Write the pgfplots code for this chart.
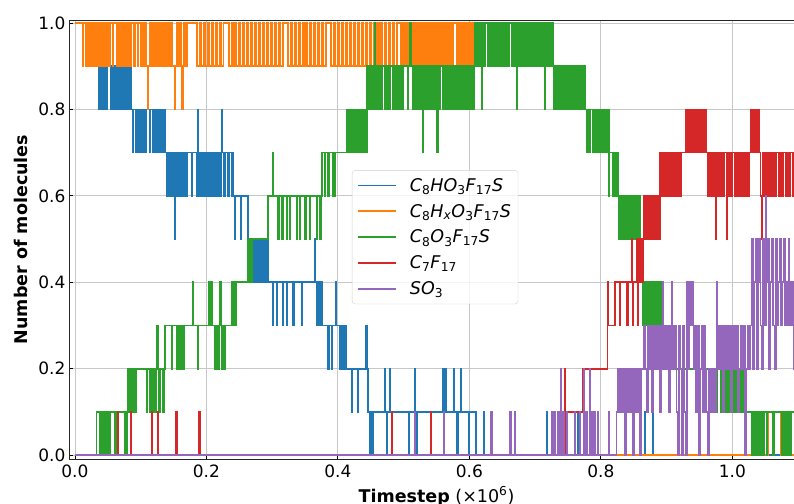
\documentclass[border=0pt]{standalone}
\usepackage{pgfplots}
\pgfplotsset{compat=1.18}
\usepackage{fontspec}
\setmainfont{DejaVu Sans}
\definecolor{tabblue}{HTML}{1F77B4}
\definecolor{taborange}{HTML}{FF7F0E}
\definecolor{tabgreen}{HTML}{2CA02C}
\definecolor{tabred}{HTML}{D62728}
\definecolor{tabpurple}{HTML}{9467BD}
\begin{document}
\begin{tikzpicture}
\begin{axis}[
  at={(69pt,44pt)}, anchor=south west, scale only axis,
  width=735pt, height=439pt,
  xmin=-9, xmax=1109, ymin=-0.009, ymax=1.007,
  xtick={0,200,400,600,800,1000}, xticklabels={0.0,0.2,0.4,0.6,0.8,1.0},
  ytick={0,0.2,0.4,0.6,0.8,1.0}, yticklabels={0.0,0.2,0.4,0.6,0.8,1.0},
  xtick pos=left, ytick pos=left, tick align=inside,
  major tick length=4pt, tick style={black, line width=0.8pt},
  grid=major, major grid style={black!22, line width=0.8pt},
  axis line style={black!85, line width=0.9pt},
  ticklabel style={font=\fontsize{17}{20}\selectfont},
  xticklabel style={yshift=-2pt},
  xlabel={\textbf{Timestep} (×10\textsuperscript{6})},
  ylabel={\textbf{Number of molecules}},
  label style={font=\fontsize{17.5}{21}\selectfont},
  xlabel style={at={(axis description cs:0.5,0)}, anchor=base, yshift=-43pt},
  ylabel style={at={(axis description cs:-0.0571,0.5)}, anchor=base},
  legend cell align=left,
  legend image code/.code={\draw[#1, line width=1.8pt] (0pt,0pt) -- (38pt,0pt);},
  legend style={at={(axis description cs:0.385,0.658)}, anchor=north west,
    draw=black!18, rounded corners=3pt, fill=white, fill opacity=0.8, text opacity=1,
    font=\fontsize{17.5}{20}\selectfont, inner xsep=5pt, inner ysep=6pt, row sep=7.3pt,
    /tikz/every odd column/.append style={column sep=11pt}},
  every axis plot/.append style={const plot, line width=1.7pt, mark=none},
]
% C8HO3F17S
\addplot[tabblue] coordinates {
(0,1.0)(33,0.9)(36,0.8)(38,0.9)(40,0.8)(42,0.9)(44,0.8)(46,0.9)(48,0.8)(49,0.9)(55,0.8)(56,0.9)(58,0.8)(59,0.9)(62,0.8)(64,0.9)(66,0.8)(68,0.9)(70,0.8)(72,0.9)(74,0.8)(76,0.9)(78,0.8)(80,0.9)(82,0.8)(84,0.9)(85,0.8)
(88,0.7)(89,0.8)(92,0.7)(93,0.8)(96,0.7)(97,0.8)(100,0.7)(102,0.8)(104,0.7)(106,0.8)(108,0.7)(109,0.8)(114,0.7)(115,0.8)(118,0.7)(120,0.8)(122,0.7)(124,0.8)(126,0.7)(128,0.8)(130,0.7)(132,0.8)(134,0.7)(135,0.8)(138,0.7)
(140,0.6)(142,0.7)(145,0.6)(147,0.7)(149,0.6)(151,0.7)(152,0.5)(153,0.6)(155,0.7)(157,0.6)(159,0.7)(161,0.6)(163,0.7)(165,0.6)(167,0.7)(169,0.6)(171,0.7)(178,0.6)(179,0.7)(185,0.6)(187,0.8)(188,0.7)(190,0.6)(192,0.7)(194,0.6)(196,0.7)(198,0.6)(200,0.7)(202,0.6)(204,0.7)(206,0.6)(208,0.7)(210,0.6)(212,0.7)(214,0.6)(216,0.7)(218,0.6)(219,0.7)(222,0.6)(223,0.8)(224,0.7)(227,0.6)(228,0.7)(233,0.6)(234,0.7)(238,0.6)(239,0.7)(240,0.6)
(243,0.5)(244,0.6)(252,0.5)(253,0.6)(263,0.5)(269,0.4)(271,0.5)(273,0.4)(275,0.5)(277,0.4)(279,0.5)(281,0.4)(283,0.5)(285,0.4)(287,0.5)(289,0.4)(291,0.5)(294,0.4)
(301,0.3)(302,0.4)(307,0.3)(308,0.4)(316,0.3)(317,0.4)(322,0.3)(323,0.4)(332,0.3)(333,0.4)(345,0.3)(346,0.4)(365,0.5)(366,0.4)(368,0.3)(370,0.4)(372,0.3)(374,0.4)(376,0.3)
(385,0.2)(386,0.3)(391,0.2)(392,0.3)(397,0.4)(398,0.3)(403,0.2)(405,0.3)(407,0.2)(409,0.3)(411,0.2)(412,0.3)(413,0.2)
(421,0.1)(422,0.2)(430,0.1)(431,0.2)(443,0.3)(444,0.2)(446,0.1)(448,0)(449,0.1)(450,0)(451,0.1)(452,0)(453,0.1)(471,0.2)(472,0.1)(474,0)(475,0.1)(479,0.2)(480,0.1)(508,0)(509,0.1)(517,0.2)(518,0.1)(520,0)(521,0.1)(560,0.2)(561,0.1)(563,0.2)(564,0.1)(576,0.2)(577,0.1)(581,0)(583,0.1)(587,0.2)(588,0.1)(599,0)(600,0.1)(610,0)
(622,0.1)(623,0)(718,0.1)(719,0)(765,0.1)(766,0)(867,0.1)(868,0)(879,0.1)(880,0)(1120,0)
};
\addlegendentry{\textit{C}\textsubscript{8}\textit{HO}\textsubscript{3}\textit{F}\textsubscript{17}\textit{S}}
% C8HxO3F17S
\addplot[taborange] coordinates {
(0,1)(12,0.9)(13,1)(16,0.9)(17,1)(20,0.9)(21,1)(24,0.9)(25,1)(28,0.9)(29,1)(31,0.9)(32,1)
(35,0.9)(37,1)(39,0.9)(41,1)(43,0.9)(45,1)(47,0.9)(49,1)(51,0.9)(53,1)(57,0.9)(58,1)
(64,0.9)(66,1)(68,0.9)(70,1)(72,0.9)(74,1)(76,0.9)(78,1)(80,0.9)(82,1)(84,0.9)(86,1)
(90,0.9)(91,1)(95,0.9)(96,1)(100,0.9)(101,1)(104,0.9)(106,1)(108,0.9)(111,0.8)(112,0.9)(114,1)
(117,0.9)(119,1)(121,0.9)(123,1)(126,0.9)(128,1)(131,0.9)(133,1)(136,0.9)(138,1)(140,0.9)(142,1)
(144,0.9)(146,1)(148,0.9)(152,0.8)(153,0.9)(155,1)(157,0.9)(159,1)(161,0.9)(163,0.8)(164,0.9)(166,1)(168,0.9)(170,1)
(186,0.9)(190,1)(192,0.9)(196,1)(198,0.9)(202,1)(204,0.9)(208,1)(210,0.9)(214,1)(216,0.9)(220,1)(222,0.9)(226,1)(234,0.9)(238,1)(240,0.9)(244,1)(246,0.9)(250,1)(252,0.9)(256,1)(258,0.9)(262,1)(264,0.9)(268,1)(270,0.9)(274,1)(276,0.9)(280,1)(282,0.9)(286,1)(288,0.9)(292,1)(294,0.9)(298,1)(300,0.9)(304,1)(306,0.9)(310,1)(312,0.9)(316,1)(324,0.9)(328,1)(330,0.9)(334,1)(336,0.9)(340,1)(342,0.9)(346,1)(348,0.9)(352,1)(354,0.9)(358,1)(360,0.9)(364,1)(366,0.9)(370,1)(372,0.9)(376,1)(378,0.9)(382,1)(390,0.9)(394,1)(396,0.9)(400,1)(402,0.9)(406,1)(408,0.9)(412,1)(414,0.9)(418,1)(420,0.9)(424,1)(426,0.9)(430,1)(432,0.9)(436,1)(438,0.9)(442,1)(444,0.9)(448,1)(450,0.9)(454,1)(456,0.9)(460,1)(462,0.9)(466,1)(468,0.9)(472,1)(474,0.9)(478,1)(480,0.9)(484,1)(486,0.9)(490,1)
(496,0.9)(498,1)(500,0.9)(502,1)(504,0.9)(506,1)(508,0.9)(510,1)
(514,0.9)(516,1)(518,0.9)(520,1)(522,0.9)(524,1)(526,0.9)(528,1)(530,0.9)(532,1)(534,0.9)(536,1)(538,0.9)(540,1)(542,0.9)(544,1)(546,0.9)(548,1)(550,0.9)(552,1)(554,0.9)(556,1)(558,0.9)(560,1)(562,0.9)(564,1)(566,0.9)(568,1)(570,0.9)(572,1)(574,0.9)(576,1)
(581,0.9)(583,1)(585,0.9)(587,1)(589,0.9)(591,1)(593,0.9)(595,1)(597,0.9)(599,1)(601,0.9)(603,1)(605,0.9)(608,0.9)
};
\addlegendentry{\textit{C}\textsubscript{8}\textit{H}\textsubscript{\textit{x}}\textit{O}\textsubscript{3}\textit{F}\textsubscript{17}\textit{S}}
\addplot[taborange, forget plot] coordinates {
(612,0)(1054,0.1)(1062,0)(1063,0.1)(1074,0)(1120,0)
};
% C8O3F17S
\addplot[tabgreen] coordinates {
(0,0)(33,0.1)(38,0)(39,0.1)(41,0)(42,0.1)(43,0)(44,0.1)(46,0)(47,0.1)(49,0)(50,0.1)(53,0)(54,0.1)(61,0)(62,0.1)(76,0)(77,0.1)(79,0)(80,0.1)
(81,0.2)(83,0.1)(85,0.2)(87,0.1)(89,0.2)(91,0.1)(93,0.2)(109,0.1)(110,0.2)(114,0.1)(116,0.2)(118,0.1)(120,0.2)(122,0.1)(124,0.2)(125,0.3)(126,0.2)(128,0.1)(130,0.2)(134,0.1)(135,0.2)
(137,0.3)(147,0.2)(148,0.3)(155,0.2)(156,0.3)(157,0.2)(159,0.3)(161,0.2)(163,0.3)(165,0.2)(166,0.3)(179,0.4)(180,0.3)(187,0.2)(188,0.3)(203,0.4)(205,0.3)(207,0.4)(209,0.3)(213,0.2)(215,0.3)(217,0.2)(219,0.3)(221,0.4)(222,0.3)(224,0.2)(226,0.3)(228,0.2)(229,0.3)(239,0.4)(240,0.3)(242,0.4)(244,0.3)(246,0.4)
(263,0.5)(264,0.4)(266,0.5)(268,0.4)(270,0.5)(294,0.6)
(301,0.7)(302,0.6)(309,0.5)(310,0.6)(315,0.5)(316,0.6)(322,0.5)(323,0.6)(327,0.5)(328,0.6)(337,0.5)(338,0.6)(342,0.5)(343,0.6)(350,0.5)(351,0.6)(357,0.5)(358,0.6)(368,0.5)(369,0.6)(373,0.5)(374,0.6)
(376,0.7)(380,0.6)(381,0.7)(385,0.6)(386,0.7)(392,0.6)(393,0.7)(395,0.6)(396,0.7)
(413,0.8)(415,0.7)(417,0.8)(419,0.7)(421,0.8)(423,0.7)(425,0.8)(427,0.7)(429,0.8)(431,0.7)(433,0.8)(435,0.7)(437,0.8)(439,0.7)(441,0.8)(443,0.7)
(444,0.9)(446,0.8)(448,0.9)(450,0.8)(452,0.9)(454,0.8)(455,0.9)(456,1.0)(457,0.9)(458,0.8)(460,0.9)(463,0.8)(464,0.9)(466,0.8)(468,0.9)(471,0.8)(472,0.9)(474,0.8)(476,0.9)(478,0.8)(480,0.9)(483,0.8)(484,0.9)(486,0.8)(488,0.9)(490,0.8)(492,0.9)(495,0.8)(496,0.9)(498,0.8)(500,0.9)(506,0.8)(507,0.9)(510,1.0)(511,0.9)(514,0.8)(516,0.9)(518,0.8)(520,0.9)(523,0.8)(524,0.9)(526,0.8)(528,0.9)(529,0.7)(530,0.9)(532,0.8)(534,0.9)(537,0.8)(538,0.9)(540,0.8)(542,0.9)(544,0.8)(546,0.9)(548,0.8)(550,0.9)(551,0.7)(552,0.9)(554,0.8)(556,0.9)(559,0.8)(560,0.9)(562,0.8)(564,0.9)(566,0.8)(568,0.9)(571,0.8)(572,0.9)(574,0.8)(576,0.9)(578,0.8)(580,0.9)(583,0.8)(584,0.9)(586,0.8)(588,0.9)(590,0.8)(592,0.9)(595,0.8)(596,0.9)(598,0.8)(600,0.9)(602,0.8)(604,0.9)(606,0.8)
(608,1.0)(610,0.9)(612,1.0)(614,0.9)(616,1.0)(619,0.8)(620,1.0)(622,0.9)(624,1.0)(628,0.9)(630,1.0)(632,0.9)(634,1.0)(636,0.9)(638,1.0)(640,0.9)(642,1.0)(644,0.9)(646,1.0)(648,0.9)(650,1.0)(652,0.9)(654,1.0)(656,0.9)(657,1.0)(660,0.9)(661,1.0)(665,0.9)(667,1.0)(669,0.9)(671,1.0)(672,0.8)(673,1.0)(675,0.9)(677,1.0)(679,0.9)(681,1.0)(683,0.9)(685,1.0)(687,0.9)(689,1.0)(691,0.9)(693,1.0)(695,0.9)(697,1.0)(699,0.9)(701,1.0)(703,0.9)(705,1.0)(707,0.9)(709,1.0)(711,0.9)(713,1.0)(715,0.8)(716,1.0)(718,0.9)(720,1.0)(722,0.9)(724,1.0)(727,0.9)
(729,0.8)(731,0.9)(733,0.8)(735,0.9)(737,0.8)(739,0.9)(741,0.8)(743,0.9)(745,0.8)(747,0.9)(749,0.8)(751,0.9)(753,0.8)(755,0.9)(757,0.8)(759,0.9)(761,0.8)(763,0.9)(765,0.8)(767,0.9)(769,0.8)(771,0.9)(773,0.8)(775,0.9)(776,0.8)
(779,0.7)(780,0.8)(783,0.7)(784,0.8)(788,0.7)(790,0.8)(792,0.7)(794,0.8)(796,0.7)(798,0.8)(800,0.7)(802,0.8)(804,0.7)(806,0.8)(808,0.7)(810,0.8)(812,0.6)(813,0.7)(818,0.6)(819,0.7)(822,0.6)(823,0.7)
(826,0.6)(828,0.5)(830,0.6)(832,0.5)(834,0.6)(836,0.5)(838,0.6)(840,0.5)(842,0.6)(844,0.5)(846,0.6)(848,0.5)(850,0.6)(852,0.5)(854,0.6)(856,0.5)(858,0.6)(860,0.5)
(862,0.4)(864,0.3)(866,0.4)(868,0.3)(870,0.4)(872,0.3)(874,0.4)(876,0.3)(878,0.4)(880,0.3)(882,0.4)(884,0.3)(886,0.4)(888,0.3)(890,0.4)(892,0.3)(895,0.2)
(976,0.1)(977,0.2)(982,0.1)(983,0.2)(988,0.1)(990,0.2)(992,0.1)(994,0.2)(996,0.1)(998,0.2)(1000,0.1)(1002,0.2)(1004,0.1)(1006,0.2)(1008,0.1)(1010,0.2)(1012,0.1)(1014,0.2)(1016,0.1)
(1020,0)(1021,0.1)(1030,0)(1032,0.1)(1034,0)(1036,0.1)(1038,0)(1040,0.1)(1042,0)(1044,0.1)(1046,0)(1048,0.1)(1052,0)(1053,0.1)(1062,0)(1063,0.1)(1076,0)(1078,0.1)(1080,0)(1082,0.1)(1084,0)(1086,0.1)(1088,0)(1090,0.1)(1120,0.1)
};
\addlegendentry{\textit{C}\textsubscript{8}\textit{O}\textsubscript{3}\textit{F}\textsubscript{17}\textit{S}}
% C7F17
\addplot[tabred] coordinates {
(0,0)(65,0.1)(66,0)(85,0.1)(86,0)(117,0.1)(118,0)(126,0.1)(127,0)(154,0.1)(155,0)(189,0.1)(190,0)(482,0.1)(483,0)(541,0.1)(542,0)
(745,0.2)(746,0.1)(773,0.2)(810,0.4)(811,0.3)(821,0.4)(829,0.3)(830,0.4)(840,0.3)(841,0.4)(847,0.5)(848,0.3)(849,0.4)(855,0.5)(856,0.3)(857,0.5)(859,0.4)(861,0.5)(863,0.4)(865,0.5)
(866,0.6)(868,0.5)(870,0.6)(872,0.5)(874,0.6)(876,0.5)(878,0.6)(880,0.5)(882,0.6)(884,0.5)(886,0.6)(888,0.5)
(890,0.7)(892,0.6)(894,0.7)(896,0.6)(898,0.7)(901,0.6)(902,0.7)(904,0.6)(906,0.7)(908,0.6)(910,0.7)(913,0.6)(914,0.7)(916,0.6)(918,0.7)(920,0.6)(922,0.7)
(930,0.8)(932,0.7)(934,0.8)(937,0.7)(938,0.8)(940,0.7)(942,0.8)(945,0.7)(946,0.8)(948,0.7)(950,0.8)(952,0.7)(954,0.8)(956,0.7)(958,0.8)(960,0.7)
(962,0.6)(964,0.7)(966,0.6)(968,0.7)(970,0.6)(972,0.7)(975,0.5)(976,0.7)(978,0.6)(980,0.7)(982,0.6)(984,0.7)(986,0.6)(988,0.7)(991,0.5)(992,0.7)(994,0.6)(996,0.7)(998,0.6)(1000,0.7)(1004,0.6)(1006,0.7)(1008,0.6)(1010,0.7)(1012,0.6)(1014,0.7)(1016,0.6)(1018,0.7)(1020,0.6)(1022,0.7)(1024,0.6)(1026,0.7)
(1028,0.8)(1030,0.7)(1032,0.8)(1034,0.7)(1036,0.8)(1038,0.7)(1040,0.8)(1041,0.7)(1043,0.6)(1045,0.5)(1046,0.7)(1048,0.6)(1050,0.7)(1052,0.6)(1054,0.7)(1056,0.6)(1058,0.7)(1060,0.6)(1062,0.7)(1064,0.6)(1066,0.7)(1070,0.6)(1072,0.7)(1076,0.6)(1078,0.7)(1082,0.6)(1084,0.7)(1086,0.6)(1088,0.7)(1092,0.6)(1094,0.7)(1120,0.7)
};
\addlegendentry{\textit{C}\textsubscript{7}\textit{F}\textsubscript{17}}
% SO3
\addplot[tabpurple] coordinates {
(0,0)(517,0.1)(518,0)(561,0.1)(562,0)(633,0.1)(634,0)(662,0.1)(663,0)(669,0.1)(670,0)
(725,0.1)(727,0)(729,0.1)(731,0)(734,0.1)(736,0)(739,0.2)(740,0)(742,0.1)(744,0)(748,0.1)(749,0)(760,0.1)(761,0)(768,0.1)(769,0)(774,0.2)(775,0)(777,0.1)(779,0)(783,0.2)(784,0)(786,0.1)(788,0)(790,0.1)(792,0)(795,0.1)(796,0)
(812,0.1)(813,0)(824,0.1)(826,0.2)(828,0.1)(830,0.2)(832,0.1)(834,0.2)(836,0)(838,0.2)(840,0.1)(842,0.2)(844,0.1)(846,0.2)(848,0)(850,0.2)(852,0.1)(854,0.2)(856,0.1)(858,0.2)(860,0)(862,0.2)
(864,0.2)(866,0.3)(868,0.2)(870,0.1)(872,0.3)(874,0.2)(876,0.3)(878,0.1)(880,0.3)(882,0.2)(884,0.3)(886,0.2)(888,0.3)(890,0.1)(892,0.3)(894,0.4)(895,0.2)(897,0.3)(899,0.2)(901,0.3)(903,0.1)(905,0.3)(907,0.2)(908,0.4)(909,0.3)(911,0.2)(913,0.3)(915,0.1)(917,0)(919,0.3)(921,0.2)(923,0)(925,0.3)(927,0.1)(929,0)(931,0.4)(933,0.2)(935,0.4)(937,0.3)(939,0.4)(941,0.2)(943,0.3)(945,0.1)(947,0.3)(949,0)(951,0.2)(953,0.3)(955,0.1)(957,0.3)(958,0.2)(960,0.1)(962,0)(964,0.2)(966,0.1)(968,0.2)(970,0.1)(972,0.2)(974,0.1)
(976,0.4)(977,0.2)(979,0.3)(981,0.2)(983,0.3)(985,0.1)(987,0.3)(989,0.2)(991,0.3)(993,0.2)(995,0.3)(997,0.1)(999,0.3)(1001,0.2)(1003,0.3)(1005,0.2)(1007,0.3)(1009,0.1)(1011,0.2)(1013,0.3)(1015,0.2)(1017,0.3)(1019,0)(1021,0.2)(1023,0.3)(1025,0.2)
(1027,0.3)(1029,0.5)(1031,0.2)(1033,0.4)(1035,0.5)(1037,0.2)(1039,0.4)(1041,0.5)(1043,0.3)(1045,0.2)(1047,0.5)(1049,0.3)(1051,0.6)(1052,0.4)(1054,0.5)(1056,0.2)(1058,0.4)(1060,0.5)(1062,0.3)(1064,0.2)(1066,0.5)(1068,0.3)(1070,0.4)(1072,0.5)(1074,0.3)(1076,0.4)(1078,0.5)(1080,0.3)(1082,0.4)(1084,0.3)(1086,0.5)(1087,0.4)(1089,0.3)(1091,0.4)(1093,0.2)(1094,0.4)(1096,0.3)(1120,0.4)
};
\addlegendentry{\textit{SO}\textsubscript{3}}
\end{axis}
\pgfresetboundingbox
\useasboundingbox (0,0) rectangle (794pt,503pt);
\end{tikzpicture}
\end{document}
